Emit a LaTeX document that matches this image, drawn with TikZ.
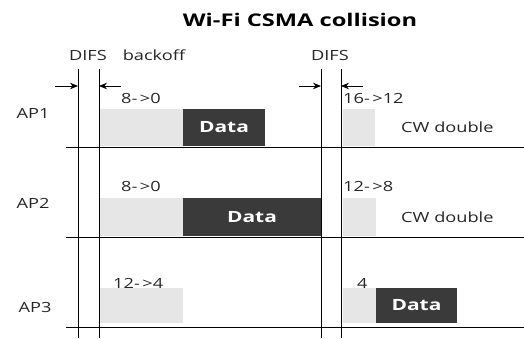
\documentclass[tikz,border=0pt]{standalone}
\usepackage{fontspec}
\setmainfont{Open Sans}
\newfontfamily\lblfont[FakeStretch=1.3]{Open Sans}
\newfontfamily\boldwide[FakeStretch=1.35]{Open Sans Bold}
\usetikzlibrary{arrows.meta}
\definecolor{lightbox}{HTML}{E6E6E6}
\definecolor{darkbox}{HTML}{3A3A3A}
\newcommand{\arr}{-\kern2.5pt>}
\begin{document}
\begin{tikzpicture}[x=1pt,y=-1pt,
  lbl/.style={inner sep=0pt,font=\lblfont\fontsize{14}{16}\selectfont,text=black!85},
  graybox/.style={fill=lightbox,draw=none,inner sep=0pt},
  databox/.style={fill=darkbox,draw=none,inner sep=0pt,text=white,font=\boldwide\fontsize{15.5}{17}\selectfont},
  rule/.style={line width=1pt,black},
  difsarrow/.style={line width=1pt,-{Stealth[length=8pt,width=6.5pt]}}]
\useasboundingbox (0,0) rectangle (524,338);
% title
\node[font=\boldwide\fontsize{17.5}{20}\selectfont,inner sep=0pt] (title) at (300,20) {Wi-Fi CSMA collision};
% top labels
\node[lbl] (difs1) at (88,55) {DIFS};
\node[lbl] (backoff) at (154,55) {backoff};
\node[lbl] (difs2) at (330,55) {DIFS};
% vertical rules
\coordinate (v1t) at (78,69); \coordinate (v1b) at (78,338);
\coordinate (v2t) at (99,69); \coordinate (v2b) at (99,338);
\coordinate (v3t) at (321,69); \coordinate (v3b) at (321,338);
\coordinate (v4t) at (341,69); \coordinate (v4b) at (341,338);
\draw[rule] (v1t) -- (v1b);
\draw[rule] (v2t) -- (v2b);
\draw[rule] (v3t) -- (v3b);
\draw[rule] (v4t) -- (v4b);
% horizontal rules
\coordinate (h1l) at (66,147.5); \coordinate (h1r) at (524,147.5);
\coordinate (h2l) at (66,237); \coordinate (h2r) at (524,237);
\coordinate (h3l) at (66,327); \coordinate (h3r) at (524,327);
\draw[rule] (h1l) -- (h1r);
\draw[rule] (h2l) -- (h2r);
\draw[rule] (h3l) -- (h3r);
% DIFS arrows
\coordinate (a1s) at (55,86); \coordinate (a1e) at (78,86);
\coordinate (a2s) at (121,86); \coordinate (a2e) at (99,86);
\coordinate (a3s) at (299,86); \coordinate (a3e) at (321,86);
\coordinate (a4s) at (363,86); \coordinate (a4e) at (341,86);
\draw[difsarrow] (a1s) -- (a1e);
\draw[difsarrow] (a2s) -- (a2e);
\draw[difsarrow] (a3s) -- (a3e);
\draw[difsarrow] (a4s) -- (a4e);
% AP labels
\node[lbl] (ap1) at (33,113) {AP1};
\node[lbl] (ap2) at (33,203) {AP2};
\node[lbl] (ap3) at (35,307) {AP3};
% row 1
\node[graybox,minimum width=83pt,minimum height=37pt] (g1) at (141.5,127.5) {};
\node[databox,minimum width=82pt,minimum height=37pt] (d1) at (224,127.5) {Data};
\node[lbl,anchor=west] (c1) at (121,98) {8\arr0};
\node[graybox,minimum width=32pt,minimum height=37pt] (g1r) at (359,127.5) {};
\node[lbl,anchor=west] (c1r) at (343,98) {16\arr12};
\node[lbl,anchor=west] (cw1) at (401,127) {CW double};
% row 2
\node[graybox,minimum width=83pt,minimum height=38pt] (g2) at (141.5,217) {};
\node[databox,minimum width=138pt,minimum height=38pt] (d2) at (252,217) {Data};
\node[lbl,anchor=west] (c2) at (121,186) {8\arr0};
\node[graybox,minimum width=33pt,minimum height=38pt] (g2r) at (359.5,217) {};
\node[lbl,anchor=west] (c2r) at (343,186) {12\arr8};
\node[lbl,anchor=west] (cw2) at (401,217) {CW double};
% row 3
\node[graybox,minimum width=83pt,minimum height=35pt] (g3) at (141.5,305.5) {};
\node[lbl,anchor=west] (c3) at (113,283) {12\arr4};
\node[graybox,minimum width=33pt,minimum height=35pt] (g3r) at (359.5,305.5) {};
\node[databox,minimum width=81pt,minimum height=35pt] (d3) at (416.5,305.5) {Data};
\node[lbl,anchor=west] (c3r) at (357,283) {4};
\end{tikzpicture}
\end{document}
